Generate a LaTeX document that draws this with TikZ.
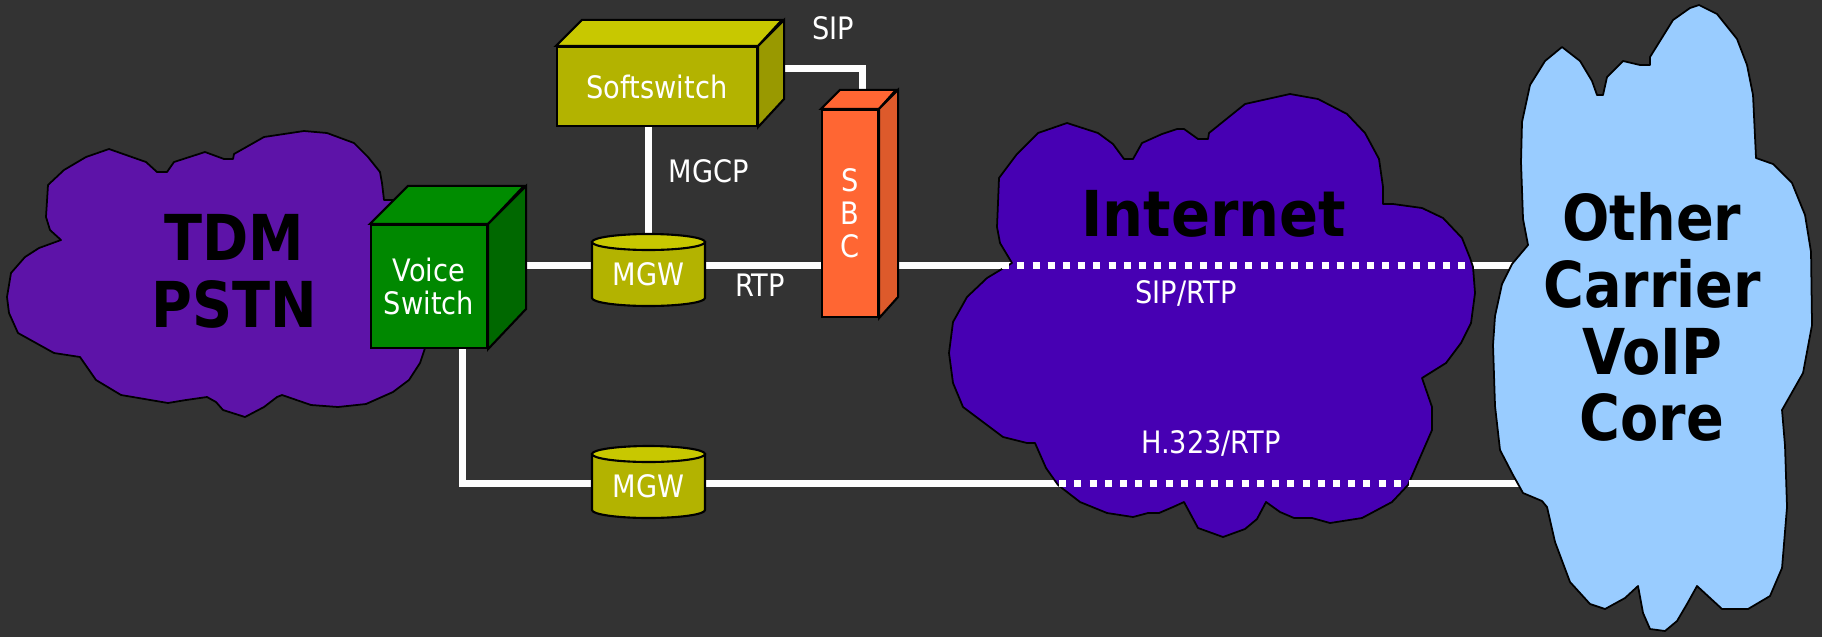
\documentclass[tikz,border=0pt]{standalone}
\usepackage{fontspec}
\usepackage{tikz}
\usetikzlibrary{calc}
\newfontfamily\labelfont[FakeStretch=0.88]{DejaVu Sans}
\newfontfamily\titlefont[FakeStretch=0.88]{DejaVu Sans}
\newfontfamily\nettitlefont[FakeStretch=0.91]{DejaVu Sans}
\definecolor{bgGray}{HTML}{333333}
\definecolor{tdmPurple}{HTML}{5D13A8}
\definecolor{netPurple}{HTML}{4700B3}
\definecolor{voipBlue}{HTML}{99CCFF}
\definecolor{vsFront}{HTML}{008800}
\definecolor{vsTop}{HTML}{008C00}
\definecolor{vsSide}{HTML}{006800}
\definecolor{ssFront}{HTML}{B3B300}
\definecolor{ssTop}{HTML}{C8C800}
\definecolor{ssSide}{HTML}{999900}
\definecolor{sbcFront}{HTML}{FF6633}
\definecolor{sbcSide}{HTML}{DD5A2B}

\begin{document}
\begin{tikzpicture}[x=0.01cm, y=-0.01cm,
    link/.style={white, line width=0.07cm},
    dotlink/.style={white, line width=0.07cm, dash pattern=on 0.07cm off 0.082cm},
    cloud/.style={draw=black, line width=0.5pt, line join=round},
    face/.style={draw=black, line width=0.6pt},
    lbl/.style={text=white, inner sep=0pt, font=\labelfont\fontsize{8.8}{9.4}\selectfont},
    front/.style={face, inner sep=0pt, text=white, align=center, font=\labelfont\fontsize{8.8}{9.4}\selectfont},
    title/.style={text=black, inner sep=0pt, align=center, font=\titlefont\bfseries\fontsize{18}{19}\selectfont}]
    \useasboundingbox (0,0) rectangle (1822,636);
    \fill[bgGray] (-10,-10) rectangle (1832,646);

    % device positions
    \coordinate (VS) at (429,286.5);
    \coordinate (SS) at (657,86.5);
    \coordinate (SBC) at (850,213.5);
    \coordinate (MGWa) at (648.5,285);
    \coordinate (MGWb) at (648.5,497);
    \coordinate (OC) at (1652,317);
    \coordinate (vsPort) at (526,265);
    \coordinate (vsDrop) at (462,483);
    \coordinate (sipBend) at (862,68);

    % links first, the boxes cover their ends
    \draw[link] (vsPort) -- (MGWa |- vsPort) -- (SBC |- vsPort) -- (OC |- vsPort);
    \draw[link] (vsDrop |- VS) -- (vsDrop) -- (MGWb |- vsDrop) -- (OC |- vsDrop);
    \draw[link] (MGWa |- SS) -- (MGWa);
    \draw[link] (SS |- sipBend) -- (sipBend) -- (sipBend |- SBC);

    % TDM cloud
    \filldraw[cloud, fill=tdmPurple] (109,149) -- (146,162) -- (157,172) -- (167,172) -- (174,162)
        -- (205,152) -- (224,159) -- (233,159) -- (234,154) -- (264,137) -- (304,131) -- (327,133)
        -- (354,143) -- (368,157) -- (380,172) -- (382,183) -- (384,200) -- (395,200) -- (440,230)
        -- (440,340) -- (425,348) -- (420,363) -- (409,380) -- (393,392) -- (366,404) -- (338,407)
        -- (311,405) -- (282,395) -- (277,397) -- (264,407) -- (245,417) -- (223,410) -- (216,402)
        -- (207,397) -- (186,400) -- (168,403) -- (121,395) -- (96,380) -- (80,357) -- (54,353)
        -- (18,333) -- (9,313) -- (7,297) -- (11,273) -- (25,257) -- (39,248) -- (61,240)
        -- (50,230) -- (46,217) -- (48,185) -- (64,170) -- (86,157) -- cycle;

    % Internet cloud
    \filldraw[cloud, fill=netPurple] (1012,263) -- (1000,243) -- (997,227) -- (999,178) -- (1017,154)
        -- (1038,133) -- (1067,123) -- (1098,133) -- (1113,144) -- (1124,159) -- (1133,159)
        -- (1142,143) -- (1162,134) -- (1177,129) -- (1184,129) -- (1198,139) -- (1208,139)
        -- (1209,133) -- (1245,104) -- (1290,94) -- (1318,99) -- (1347,114) -- (1365,133)
        -- (1379,159) -- (1383,187) -- (1383,204) -- (1393,204) -- (1422,208) -- (1443,218)
        -- (1462,238) -- (1470,258) -- (1473,267) -- (1475,293) -- (1471,323) -- (1461,343)
        -- (1446,363) -- (1422,378) -- (1432,407) -- (1432,430) -- (1422,453) -- (1408,485)
        -- (1392,502) -- (1362,518) -- (1330,523) -- (1312,518) -- (1294,518) -- (1280,512)
        -- (1266,502) -- (1257,519) -- (1245,529) -- (1223,537) -- (1198,528) -- (1184,502)
        -- (1173,507) -- (1159,513) -- (1148,513) -- (1133,517) -- (1107,513) -- (1080,502)
        -- (1058,485) -- (1046,468) -- (1035,443) -- (1027,443) -- (1003,437) -- (963,407)
        -- (953,383) -- (949,353) -- (953,322) -- (967,297) -- (987,278) -- cycle;

    % dotted over the Internet
    \draw[dotlink] (SBC |- vsPort) -- (OC |- vsPort);
    \draw[dotlink] (MGWb |- vsDrop) -- (OC |- vsDrop);

    % other carrier cloud
    \filldraw[cloud, fill=voipBlue] (1690,8) -- (1699,5) -- (1717,14) -- (1737,39) -- (1747,65)
        -- (1753,95) -- (1756,158) -- (1773,164) -- (1792,183) -- (1805,215) -- (1811,252)
        -- (1812,325) -- (1803,373) -- (1782,410) -- (1785,446) -- (1787,507) -- (1782,568)
        -- (1770,596) -- (1748,609) -- (1722,609) -- (1697,586) -- (1687,604) -- (1677,621)
        -- (1665,631) -- (1650,629) -- (1643,613) -- (1638,586) -- (1625,598) -- (1605,609)
        -- (1590,604) -- (1570,582) -- (1555,542) -- (1547,507) -- (1542,501) -- (1523,493)
        -- (1513,475) -- (1500,450) -- (1495,406) -- (1493,345) -- (1495,316) -- (1502,284)
        -- (1512,264) -- (1528,245) -- (1523,219) -- (1521,162) -- (1522,122) -- (1530,85)
        -- (1545,61) -- (1562,47) -- (1580,61) -- (1592,81) -- (1597,95) -- (1603,95)
        -- (1607,77) -- (1623,61) -- (1640,65) -- (1650,65) -- (1650,57) -- (1673,20) -- cycle;

    % voice switch
    \node[front, fill=vsFront, minimum width=1.16cm, minimum height=1.23cm] (vsw) at (VS) {Voice\\Switch};
    \filldraw[face, fill=vsTop] (vsw.north west) -- ++(38,-38) -- ++(116,0) -- (vsw.north east) -- cycle;
    \filldraw[face, fill=vsSide] (vsw.north east) -- ++(38,-38) -- ++(0,123) -- (vsw.south east) -- cycle;

    % softswitch
    \node[front, fill=ssFront, minimum width=2cm, minimum height=0.79cm] (ssw) at (SS) {Softswitch};
    \filldraw[face, fill=ssTop] (ssw.north west) -- ++(26,-26) -- ++(200,0) -- (ssw.north east) -- cycle;
    \filldraw[face, fill=ssSide] (ssw.north east) -- ++(26,-26) -- ++(0,79) -- (ssw.south east) -- cycle;

    % SBC
    \node[front, fill=sbcFront, minimum width=0.56cm, minimum height=2.07cm] (sbc) at (SBC) {S\\B\\C};
    \filldraw[face, fill=sbcFront] (sbc.north west) -- ++(19,-19) -- ++(56,0) -- (sbc.north east) -- cycle;
    \filldraw[face, fill=sbcSide] (sbc.north east) -- ++(19,-19) -- ++(0,207) -- (sbc.south east) -- cycle;

    % media gateways
    \foreach \m in {MGWa,MGWb} {
        \filldraw[face, fill=ssFront] ($(\m)+(-56.5,-43)$) -- ($(\m)+(-56.5,13)$)
            arc[start angle=180, end angle=0, x radius=56.5, y radius=8] -- ($(\m)+(56.5,-43)$) -- cycle;
        \filldraw[face, fill=ssTop] ($(\m)+(0,-43)$) ellipse [x radius=56.5, y radius=8];
    }
    \node[lbl, anchor=base] (mgwA) at (MGWa) {MGW};
    \node[lbl, anchor=base] (mgwB) at (MGWb) {MGW};

    % protocol labels
    \node[lbl, anchor=base] (sipLbl) at (833,39) {SIP};
    \node[lbl, anchor=base west] (mgcpLbl) at (668,182) {MGCP};
    \node[lbl, anchor=base] (rtpLbl) at (760,296) {RTP};
    \node[lbl, anchor=base] (sipRtpLbl) at (1186,303) {SIP/RTP};
    \node[lbl, anchor=base] (h323Lbl) at (1211,453) {H.323/RTP};

    % cloud titles
    \node[title] (tdm) at (234,271.5) {TDM\\PSTN};
    \node[title, font=\nettitlefont\bfseries\fontsize{18}{19}\selectfont] (net) at (1214,213.5) {Internet};
    \node[title] (oc) at (OC) {Other\\Carrier\\VoIP\\Core};
\end{tikzpicture}
\end{document}
